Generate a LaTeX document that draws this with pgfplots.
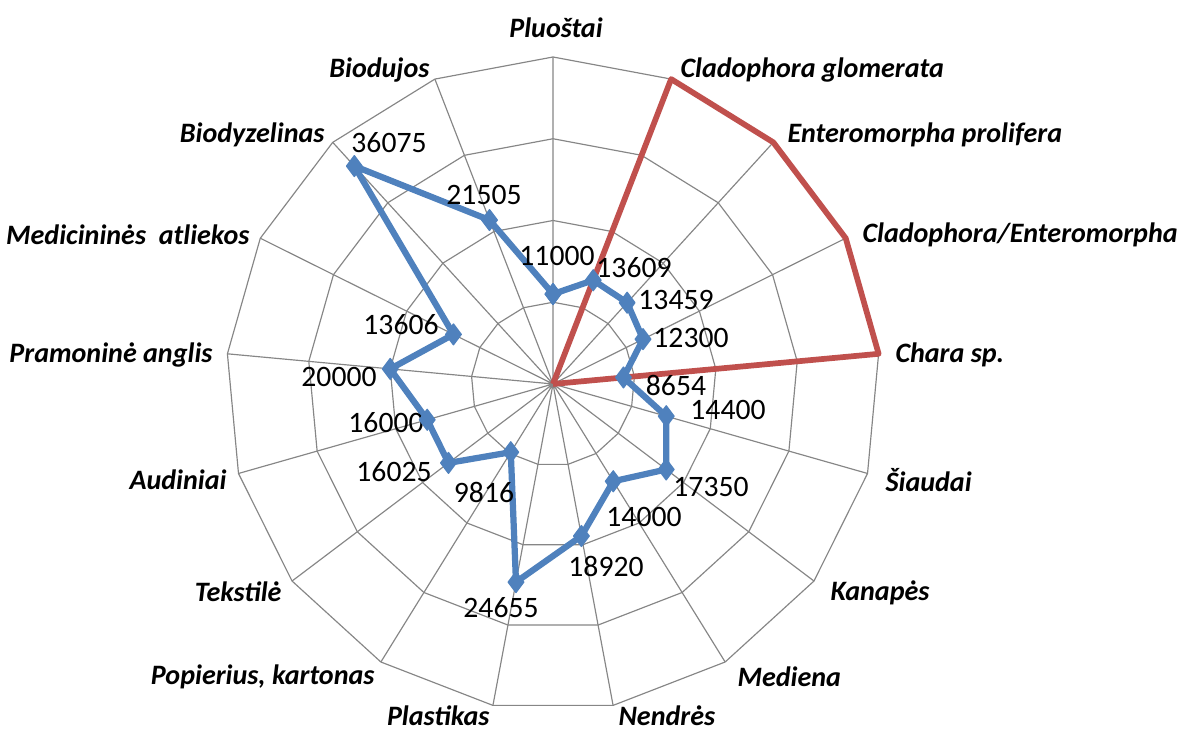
\documentclass[border=0pt]{standalone}
\usepackage{pgfplots}
\pgfplotsset{compat=1.18}
\usepackage{fontspec}
\setmainfont{Carlito}
\definecolor{serblue}{HTML}{4F81BD}
\definecolor{serred}{HTML}{C0504D}
\definecolor{gridgray}{HTML}{868686}
\begin{document}
\begin{tikzpicture}[
  vlab/.style={font=\fontsize{11.4}{13}\selectfont, inner sep=0pt},
  clab/.style={font=\fontsize{10.8}{13}\selectfont\bfseries\itshape, inner sep=0pt},
]
\begin{axis}[
  width=16cm, height=9.905cm, scale only axis,
  xmin=-67645, xmax=77184, ymin=-42690, ymax=46972,
  hide axis, clip=false,
]
% invisible frame fixing the bounding box
\path (rel axis cs:0,0) rectangle (rel axis cs:1,1);
% spokes
\addplot[gridgray, line width=0.45pt, data cs=polar, forget plot] coordinates {
(90,40000) (90,0) (68.8235,40000) (68.8235,0) (47.6471,40000) (47.6471,0)
(26.4706,40000) (26.4706,0) (5.2941,40000) (5.2941,0) (-15.8824,40000) (-15.8824,0)
(-37.0588,40000) (-37.0588,0) (-58.2353,40000) (-58.2353,0) (-79.4118,40000) (-79.4118,0)
(-100.5882,40000) (-100.5882,0) (-121.7647,40000) (-121.7647,0) (-142.9412,40000) (-142.9412,0)
(-164.1176,40000) (-164.1176,0) (-185.2941,40000) (-185.2941,0) (-206.4706,40000) (-206.4706,0)
(-227.6471,40000) (-227.6471,0) (-248.8235,40000) (-248.8235,0)
};
% rings
\addplot[gridgray, line width=0.45pt, data cs=polar, forget plot] coordinates {
(90,10000) (68.8235,10000) (47.6471,10000) (26.4706,10000) (5.2941,10000) (-15.8824,10000)
(-37.0588,10000) (-58.2353,10000) (-79.4118,10000) (-100.5882,10000) (-121.7647,10000)
(-142.9412,10000) (-164.1176,10000) (-185.2941,10000) (-206.4706,10000) (-227.6471,10000)
(-248.8235,10000) (-270,10000)
};
\addplot[gridgray, line width=0.45pt, data cs=polar, forget plot] coordinates {
(90,20000) (68.8235,20000) (47.6471,20000) (26.4706,20000) (5.2941,20000) (-15.8824,20000)
(-37.0588,20000) (-58.2353,20000) (-79.4118,20000) (-100.5882,20000) (-121.7647,20000)
(-142.9412,20000) (-164.1176,20000) (-185.2941,20000) (-206.4706,20000) (-227.6471,20000)
(-248.8235,20000) (-270,20000)
};
\addplot[gridgray, line width=0.45pt, data cs=polar, forget plot] coordinates {
(90,30000) (68.8235,30000) (47.6471,30000) (26.4706,30000) (5.2941,30000) (-15.8824,30000)
(-37.0588,30000) (-58.2353,30000) (-79.4118,30000) (-100.5882,30000) (-121.7647,30000)
(-142.9412,30000) (-164.1176,30000) (-185.2941,30000) (-206.4706,30000) (-227.6471,30000)
(-248.8235,30000) (-270,30000)
};
\addplot[gridgray, line width=0.45pt, data cs=polar, forget plot] coordinates {
(90,40000) (68.8235,40000) (47.6471,40000) (26.4706,40000) (5.2941,40000) (-15.8824,40000)
(-37.0588,40000) (-58.2353,40000) (-79.4118,40000) (-100.5882,40000) (-121.7647,40000)
(-142.9412,40000) (-164.1176,40000) (-185.2941,40000) (-206.4706,40000) (-227.6471,40000)
(-248.8235,40000) (-270,40000)
};
% red series
\addplot[serred, line width=2.2pt, line join=round, data cs=polar] coordinates {
(90,0) (68.8235,40000) (47.6471,40000) (26.4706,40000) (5.2941,40000) (-15.8824,0)
(-37.0588,0) (-58.2353,0) (-79.4118,0) (-100.5882,0) (-121.7647,0)
(-142.9412,0) (-164.1176,0) (-185.2941,0) (-206.4706,0) (-227.6471,0)
(-248.8235,0) (-270,0)
};
% blue series
\addplot[serblue, line width=2.4pt, line join=round, mark=diamond*, mark size=4pt,
  mark options={line width=0.5pt, fill=serblue}, data cs=polar] coordinates {
(90,11000) (68.8235,13609) (47.6471,13459) (26.4706,12300) (5.2941,8654) (-15.8824,14400)
(-37.0588,17350) (-58.2353,14000) (-79.4118,18920) (-100.5882,24655) (-121.7647,9816)
(-142.9412,16025) (-164.1176,16000) (-185.2941,20000) (-206.4706,13606) (-227.6471,36075)
(-248.8235,21505) (-270,11000)
};
% value labels
\node[vlab] at (axis cs:489,15657) {11000};
\node[vlab] at (axis cs:9908,14189) {13609};
\node[vlab] at (axis cs:15045,10275) {13459};
\node[vlab] at (axis cs:16880,5627) {12300};
\node[vlab] at (axis cs:15045,-122) {8654};
\node[vlab] at (axis cs:21406,-3180) {14400};
\node[vlab] at (axis cs:19327,-12599) {17350};
\node[vlab] at (axis cs:11131,-16269) {14000};
\node[vlab] at (axis cs:6483,-22385) {18920};
\node[vlab] at (axis cs:-6361,-27400) {24655};
\node[vlab] at (axis cs:-8440,-13211) {9816};
\node[vlab] at (axis cs:-19449,-10764) {16025};
\node[vlab] at (axis cs:-20427,-4770) {16000};
\node[vlab] at (axis cs:-26176,856) {20000};
\node[vlab] at (axis cs:-18593,7217) {13606};
\node[vlab] at (axis cs:-20060,29479) {36075};
\node[vlab] at (axis cs:-8440,23118) {21505};
% category labels
\node[clab, anchor=center] at (axis cs:367,43546) {Pluoštai};
\node[clab, anchor=west] at (axis cs:15535,38408) {Cladophora glomerata};
\node[clab, anchor=west] at (axis cs:28623,30458) {Enteromorpha prolifera};
\node[clab, anchor=west] at (axis cs:37797,18226) {Cladophora/Enteromorpha};
\node[clab, anchor=west] at (axis cs:41833,3547) {Chara sp.};
\node[clab, anchor=west] at (axis cs:40610,-11743) {Šiaudai};
\node[clab, anchor=west] at (axis cs:33883,-25565) {Kanapės};
\node[clab, anchor=west] at (axis cs:22507,-35840) {Mediena};
\node[clab, anchor=west] at (axis cs:7951,-40611) {Nendrės};
\node[clab, anchor=east] at (axis cs:-7706,-40611) {Plastikas};
\node[clab, anchor=east] at (axis cs:-21773,-35840) {Popierius, kartonas};
\node[clab, anchor=east] at (axis cs:-33149,-25443) {Tekstilė};
\node[clab, anchor=east] at (axis cs:-39876,-11743) {Audiniai};
\node[clab, anchor=east] at (axis cs:-41589,3547) {Pramoninė anglis};
\node[clab, anchor=east] at (axis cs:-37063,18226) {Medicininės\ \ atliekos};
\node[clab, anchor=east] at (axis cs:-27889,30458) {Biodyzelinas};
\node[clab, anchor=east] at (axis cs:-15045,38408) {Biodujos};
\end{axis}
\end{tikzpicture}
\end{document}
